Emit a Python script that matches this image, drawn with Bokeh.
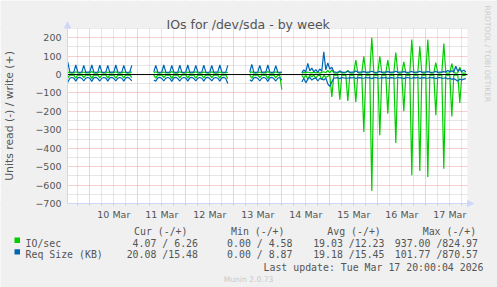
import math
from bokeh.plotting import figure
from bokeh.models import (Range1d, FixedTicker, Arrow, NormalHead,
                          BoxAnnotation, ColumnDataSource)
from bokeh.core.properties import value
from bokeh.embed import file_html
from bokeh.resources import INLINE

# ---------------- data (hours since 9 Mar 00:00, one sample per hour) ----------------
SEG_START = [13, 56, 104, 130]

IOS_READ = [
    [18, 3, 2, 3, 20, 2, 3, 2, 17, 3, 2, 3, 21, 2, 3, 3, 18, 3, 2, 2, 19, 2, 3, 3, 20, 3, 2, 3, 18, 2, 3, 2, 17],
    [3, 19, 2, 3, 2, 17, 3, 2, 3, 21, 2, 3, 3, 18, 3, 2, 2, 19, 2, 3, 3, 20, 3, 2, 3, 18, 2, 3, 2, 17, 3, 2, 3, 19, 2, 3, 2, 22],
    [3, 19, 2, 3, 2, 17, 3, 2, 3, 21, 2, 3, 3, 18, 3, 5, 81],
    [5, 18, 3, 25, 4, 12, 3, 20, 6, 3, 28, 4, 15, 9, 3,
     122, 3, 2, 3, 136, 2, 3, 2, 143, 3, 2, 3, 149, 2, 3, 3, 312, 3, 2, 3, 632, 2, 3, 2,
     330, 3, 2, 3, 212, 2, 3, 3, 372, 3, 2, 3, 199, 2, 3, 2, 547, 3, 2, 3, 524, 2, 3, 3,
     556, 3, 2, 3, 221, 2, 3, 2, 511, 3, 2, 3, 227, 2, 3, 3, 154, 5, 3, 4],
]
IOS_WRITE = [
    [14, 9, 8, 9, 15, 9, 8, 10, 14, 9, 9, 9, 16, 9, 8, 9, 15, 10, 8, 9, 14, 9, 9, 10, 15, 9, 8, 9, 14, 10, 8, 9, 15],
    [9, 15, 9, 8, 10, 14, 9, 9, 9, 16, 9, 8, 9, 15, 10, 8, 9, 14, 9, 9, 10, 15, 9, 8, 9, 14, 10, 8, 9, 15, 9, 8, 9, 14, 9, 9, 10, 12],
    [9, 15, 9, 8, 10, 14, 9, 9, 9, 16, 9, 8, 9, 15, 10, 8, 12],
    [8, 12, 9, 14, 10, 9, 13, 9, 11, 8, 12, 15, 10, 22, 9,
     25, 9, 8, 9, 15, 9, 9, 10, 23, 9, 8, 9, 78, 10, 8, 9, 99, 9, 9, 10, 201, 9, 8, 9,
     99, 10, 8, 9, 78, 9, 9, 10, 120, 9, 8, 9, 69, 10, 8, 9, 190, 9, 9, 10, 154, 9, 8, 9,
     190, 10, 8, 9, 65, 9, 9, 10, 168, 9, 8, 9, 60, 10, 8, 9, 40, 9, 8, 7],
]
SIZE_READ = [
    [42, 20, 16, 19, 36, 18, 15, 21, 35, 19, 16, 20, 37, 18, 15, 22, 35, 20, 16, 19, 36, 18, 15, 21, 35, 19, 16, 20, 36, 18, 15, 22, 34],
    [30, 36, 18, 15, 21, 35, 19, 16, 20, 37, 18, 15, 22, 35, 20, 16, 19, 36, 18, 15, 21, 35, 19, 16, 20, 36, 18, 15, 22, 34, 19, 16, 20, 36, 18, 15, 21, 49],
    [28, 36, 18, 15, 21, 35, 19, 16, 20, 37, 18, 15, 22, 35, 20, 16, 30],
    [40, 20, 45, 25, 15, 30, 22, 18, 35, 20, 25, 30, 18, 50, 64,
     40, 20, 18, 17, 22, 16, 18, 19, 20, 17, 18, 16, 21, 18, 17, 19, 20, 16, 18, 17,
     22, 18, 16, 19, 20, 17, 18, 16, 21, 18, 17, 19, 20, 16, 18, 17, 22, 18, 16, 19,
     20, 17, 18, 16, 21, 18, 17, 19, 20, 16, 18, 17, 22, 18, 16, 19, 20, 17, 24, 20,
     26, 22, 28, 36, 24, 30, 25, 22],
]
SIZE_WRITE = [
    [67, 14, 12, 13, 52, 13, 12, 14, 50, 12, 13, 13, 53, 14, 12, 13, 51, 13, 12, 14, 50, 12, 13, 13, 52, 14, 12, 13, 50, 13, 12, 14, 50],
    [15, 50, 13, 12, 14, 52, 13, 12, 13, 50, 14, 12, 13, 51, 13, 12, 14, 52, 12, 13, 13, 50, 14, 12, 13, 51, 13, 12, 14, 50, 12, 13, 13, 52, 14, 12, 13, 50],
    [14, 55, 13, 12, 14, 50, 12, 13, 13, 52, 14, 12, 13, 48, 13, 12, 14],
    [10, 25, 15, 60, 20, 35, 15, 27, 12, 30, 18, 123, 25, 63, 30,
     40, 15, 13, 12, 20, 13, 12, 14, 18, 12, 13, 13, 20, 12, 14, 13, 16, 12, 13, 14,
     18, 13, 12, 13, 17, 12, 14, 13, 16, 12, 13, 13, 18, 12, 14, 13, 16, 13, 12, 14,
     17, 12, 13, 13, 18, 12, 14, 13, 16, 13, 12, 14, 17, 12, 13, 13, 16, 14, 22, 16,
     20, 13, 45, 18, 30, 16, 24, 14],
]

DAY_LABELS = ["10 Mar", "11 Mar", "12 Mar", "13 Mar", "14 Mar", "15 Mar", "16 Mar", "17 Mar"]
Y_TICKS = [-700, -600, -500, -400, -300, -200, -100, 0, 100, 200]

TITLE = "IOs for /dev/sda - by week"
Y_LABEL = "Units read (-) / write (+)"
LEGEND_NAMES = ["IO/sec", "Req Size (KB)"]
LEGEND_HEAD = ["Cur (-/+)", "Min (-/+)", "Avg (-/+)", "Max (-/+)"]
CUR_TXT = ["4.07 / 6.26", "20.08 /15.48"]
MIN_TXT = ["0.00 / 4.58", "0.00 / 8.87"]
AVG_TXT = ["19.03 /12.23", "19.18 /15.45"]
MAX_TXT = ["937.00 /824.97", "101.77 /870.57"]
LAST_UPDATE = "Last update: Tue Mar 17 20:00:04 2026"
VERSION = "Munin 2.0.73"
WATERMARK = "RRDTOOL / TOBI OETIKER"

# ---------------- style ----------------
GREEN = "#00CC00"
BLUE = "#0066B3"
FONT = "#555555"
AXIS = "#CFD6F8"
MGRID = "#E8A0A0"
GRID = "#CCCCCC"
BACK = "#F0F0F0"
MONO = "DejaVu Sans Mono"
SANS = "DejaVu Sans"

W, H = 497, 287
FL, FT, FW, FH = 67, 28, 400, 175          # plot area in canvas pixels
X0, X1 = 12.85, 212.85                      # plotted time span (hours)
Y0, Y1 = -700, 250                          # plotted value span


def XH(px):
    return X0 + (px - FL) * (X1 - X0) / FW


def YV(py):
    return Y1 - (py - FT) * (Y1 - Y0) / FH


p = figure(width=W, height=H, output_backend="svg", toolbar_location=None, title=None,
           x_range=Range1d(XH(0), XH(W)), y_range=Range1d(YV(H), YV(0)),
           min_border=0)
p.background_fill_color = "white"
p.border_fill_color = BACK
p.outline_line_color = None

# grids
day_bounds = [24 * (k + 1) for k in range(len(DAY_LABELS))]
six_h = [h for h in range(18, 213, 6) if h % 24 != 0]
p.xgrid.ticker = FixedTicker(ticks=day_bounds, minor_ticks=six_h)
p.ygrid.ticker = FixedTicker(ticks=Y_TICKS, minor_ticks=[t + 50 for t in Y_TICKS])
for g in (p.xgrid, p.ygrid):
    g.grid_line_color = MGRID
    g.grid_line_dash = "1 1"
    g.minor_grid_line_color = GRID
    g.minor_grid_line_dash = "1 1"

# grey surround outside the plot area (covers the grid ends)
for l, r, b, t in ((0, W, FT, 0), (0, W, H, FT + FH), (0, FL, H, 0), (FL + FW, W, H, 0)):
    p.add_layout(BoxAnnotation(left=XH(l), right=XH(r), bottom=YV(b), top=YV(t),
                               fill_color=BACK, fill_alpha=1, line_color=None,
                               level="underlay"))

# axes pinned to the plot-area edges
noon = [36 + 24 * i for i in range(len(DAY_LABELS))]
p.xaxis.fixed_location = Y0
p.xaxis.bounds = (X0, X1)
p.xaxis.ticker = FixedTicker(ticks=noon, minor_ticks=six_h + day_bounds)
p.xaxis.major_label_overrides = {t: lab for t, lab in zip(noon, DAY_LABELS)}
p.yaxis.fixed_location = X0
p.yaxis.bounds = (Y0, Y1)
p.yaxis.ticker = FixedTicker(ticks=Y_TICKS)
for ax in (p.xaxis, p.yaxis):
    ax.axis_line_color = AXIS
    ax.major_label_text_font = SANS
    ax.major_label_text_font_size = "9.5px"
    ax.major_label_text_color = FONT
p.xaxis.major_tick_in = 0
p.xaxis.major_tick_out = 2
p.xaxis.minor_tick_in = 0
p.xaxis.minor_tick_out = 2
p.xaxis.major_tick_line_color = GRID
p.xaxis.minor_tick_line_color = GRID
p.xaxis.major_label_standoff = 3
p.yaxis.major_tick_line_color = None
p.yaxis.minor_tick_line_color = None
p.yaxis.major_tick_in = 0
p.yaxis.major_tick_out = 0
p.yaxis.major_label_standoff = 6
p.yaxis.axis_label = Y_LABEL
p.yaxis.axis_label_text_font = SANS
p.yaxis.axis_label_text_font_size = "10.8px"
p.yaxis.axis_label_text_font_style = "normal"
p.yaxis.axis_label_text_color = FONT
p.yaxis.axis_label_standoff = 16

# data lines
for series, color, sign in ((IOS_READ, GREEN, -1), (IOS_WRITE, GREEN, 1),
                            (SIZE_READ, BLUE, -1), (SIZE_WRITE, BLUE, 1)):
    for start, vals in zip(SEG_START, series):
        src = ColumnDataSource(dict(h=[start + i for i in range(len(vals))],
                                    v=[sign * v for v in vals]))
        p.line("h", "v", source=src, line_color=color, line_width=1.2)

# zero rule
p.segment(x0=[X0], y0=[0], x1=[X1], y1=[0], line_color="black", line_width=1)

# axis arrows
for xs, ys, xe, ye in ((X0, Y1, X0, YV(21.5)), (X1, Y0, XH(473), Y0)):
    p.add_layout(Arrow(end=NormalHead(size=6, fill_color=AXIS, line_color=AXIS),
                       x_start=xs, y_start=ys, x_end=xe, y_end=ye,
                       line_color=AXIS, line_width=1))


def texts(pxs, pys, strings, align, size, color=FONT, font=MONO, angle=0.0,
          baseline="alphabetic"):
    src = ColumnDataSource(dict(x=[XH(v) for v in pxs], y=[YV(v) for v in pys],
                                t=strings))
    p.text("x", "y", text="t", source=src, text_font=value(font),
           text_font_size=value(size), text_color=color, text_align=align,
           text_baseline=baseline, angle=angle)


texts([166], [24], [TITLE], "left", "12.5px", font=SANS)
texts([487], [5], [WATERMARK], "left", "7.5px", color="#CCCCCC", font=SANS,
      angle=-math.pi / 2, baseline="middle")

MS = "9.9px"
texts([133.5, 230.5, 326.8, 422.2], [230.7] * 4, LEGEND_HEAD, "left", MS)
row_y = [242.7, 254.3]
texts([25, 25], row_y, LEGEND_NAMES, "left", MS)
for col_x, col in zip([197.5, 292, 384, 477.5], [CUR_TXT, MIN_TXT, AVG_TXT, MAX_TXT]):
    texts([col_x, col_x], row_y, col, "right", MS)
texts([483], [266.5], [LAST_UPDATE], "right", MS)
texts([248], [278.5], [VERSION], "center", "7.6px", color="#C8C8C8", font=SANS)

p.quad(left=[XH(14)] * 2, right=[XH(19.5)] * 2, top=[YV(y - 5.6) for y in row_y],
       bottom=[YV(y - 0.2) for y in row_y], fill_color=[GREEN, BLUE], line_color=None)

open("out.html", "w").write(file_html(p, INLINE))
